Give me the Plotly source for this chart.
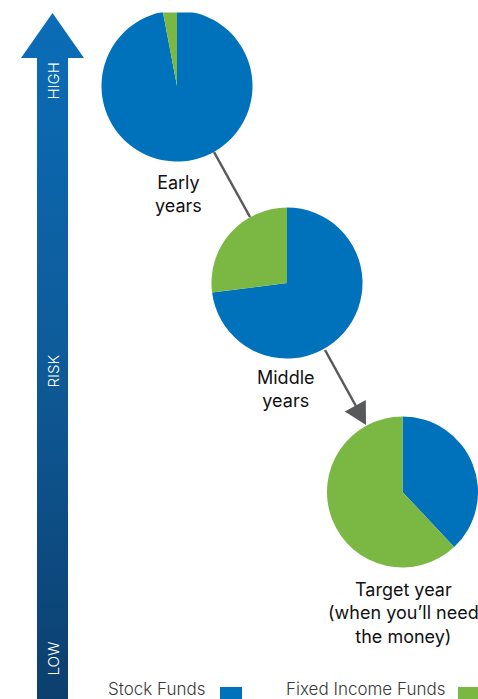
import plotly.graph_objects as go

# ---- data ----
stages = ["Early<br>years", "Middle<br>years", "Target year<br>(when you’ll need<br>the money)"]
series_names = ["Stock Funds", "Fixed Income Funds"]
stock_funds = [97, 73, 38]
fixed_income_funds = [3, 27, 62]
risk_labels = ["HIGH", "RISK", "LOW"]

BLUE = "#0071BB"
GREEN = "#7AB843"
W, H = 478, 699
FONT = "Inter"

# layout geometry (pixels)
pie_centers = [(177, 86), (287, 283), (402.5, 492)]
pie_r = 75.5
label_pos = [(178, 194), (286, 389), (403, 613)]
risk_pos = [81, 371, 659]

fig = go.Figure()

# risk arrow with gradient
ax_l, ax_r, ax_c = 37, 68, 52.5
hx_l, hx_r, hy, tip_y = 21, 84, 58, 13
fig.add_trace(go.Scatter(
    x=[ax_c, hx_r, ax_r, ax_r, ax_l, ax_l, hx_l, ax_c],
    y=[tip_y, hy, hy, H + 5, H + 5, hy, hy, tip_y],
    mode="lines", fill="toself", line=dict(width=0, color="rgba(0,0,0,0)"),
    fillgradient=dict(type="vertical", colorscale=[[0, "#0c3f6e"], [0.5, "#0e5b99"], [1, "#0a6db7"]],
                      start=H, stop=tip_y),
    hoverinfo="skip", showlegend=False,
))

def clamp(v):
    return min(1.0, max(0.0, v))

for i, (cx, cy) in enumerate(pie_centers):
    fig.add_trace(go.Pie(
        labels=series_names,
        values=[stock_funds[i], fixed_income_funds[i]],
        marker=dict(colors=[BLUE, GREEN], line=dict(width=0)),
        sort=False, direction="clockwise", rotation=0,
        textinfo="none", hoverinfo="label+percent", showlegend=False,
        domain=dict(x=[clamp((cx - pie_r) / W), clamp((cx + pie_r) / W)],
                    y=[clamp(1 - (cy + pie_r) / H), clamp(1 - (cy - pie_r) / H)]),
    ))

shapes = []
# clip top of first pie
shapes.append(dict(type="rect", xref="x", yref="y", x0=92, x1=262, y0=-5, y1=12.5,
                   fillcolor="white", line=dict(width=0), layer="above"))
# connector lines
shapes.append(dict(type="line", xref="x", yref="y", x0=214, y0=152, x1=250, y1=217,
                   line=dict(color="#58595B", width=2.5), layer="above"))
shapes.append(dict(type="line", xref="x", yref="y", x0=325, y0=350, x1=357, y1=408,
                   line=dict(color="#58595B", width=2.5), layer="above"))
shapes.append(dict(type="path", xref="x", yref="y",
                   path="M 366 425 L 344.8 411.6 L 365.8 400 Z",
                   fillcolor="#58595B", line=dict(width=0), layer="above"))
# legend swatches
shapes.append(dict(type="rect", xref="x", yref="y", x0=220, x1=242, y0=687, y1=712,
                   fillcolor=BLUE, line=dict(width=0), layer="above"))
shapes.append(dict(type="rect", xref="x", yref="y", x0=458, x1=481, y0=687, y1=712,
                   fillcolor=GREEN, line=dict(width=0), layer="above"))

annotations = []
for (lx, ly), t in zip(label_pos, stages):
    annotations.append(dict(x=lx, y=ly, xref="x", yref="y", text=t, showarrow=False,
                            font=dict(family=FONT, size=18, color="#111111", weight=400),
                            xanchor="center", yanchor="middle", align="center"))
for ry, t in zip(risk_pos, risk_labels):
    annotations.append(dict(x=ax_c, y=ry, xref="x", yref="y", text=t, showarrow=False,
                            textangle=-90,
                            font=dict(family=FONT, size=15, color="white", weight=300),
                            xanchor="center", yanchor="middle"))
annotations.append(dict(x=206, y=689, xref="x", yref="y", text="Stock Funds", showarrow=False,
                        font=dict(family=FONT, size=17, color="#3a3a3a", weight=300),
                        xanchor="right", yanchor="middle", borderpad=0))
annotations.append(dict(x=446, y=689, xref="x", yref="y", text="Fixed Income Funds", showarrow=False,
                        font=dict(family=FONT, size=17, color="#3a3a3a", weight=300),
                        xanchor="right", yanchor="middle", borderpad=0))

fig.update_layout(
    width=W, height=H, margin=dict(l=0, r=0, t=0, b=0),
    paper_bgcolor="white", plot_bgcolor="white",
    xaxis=dict(range=[0, W], visible=False, fixedrange=True),
    yaxis=dict(range=[H, 0], visible=False, fixedrange=True),
    shapes=shapes, annotations=annotations, showlegend=False,
)

fig.write_html("out.html")
